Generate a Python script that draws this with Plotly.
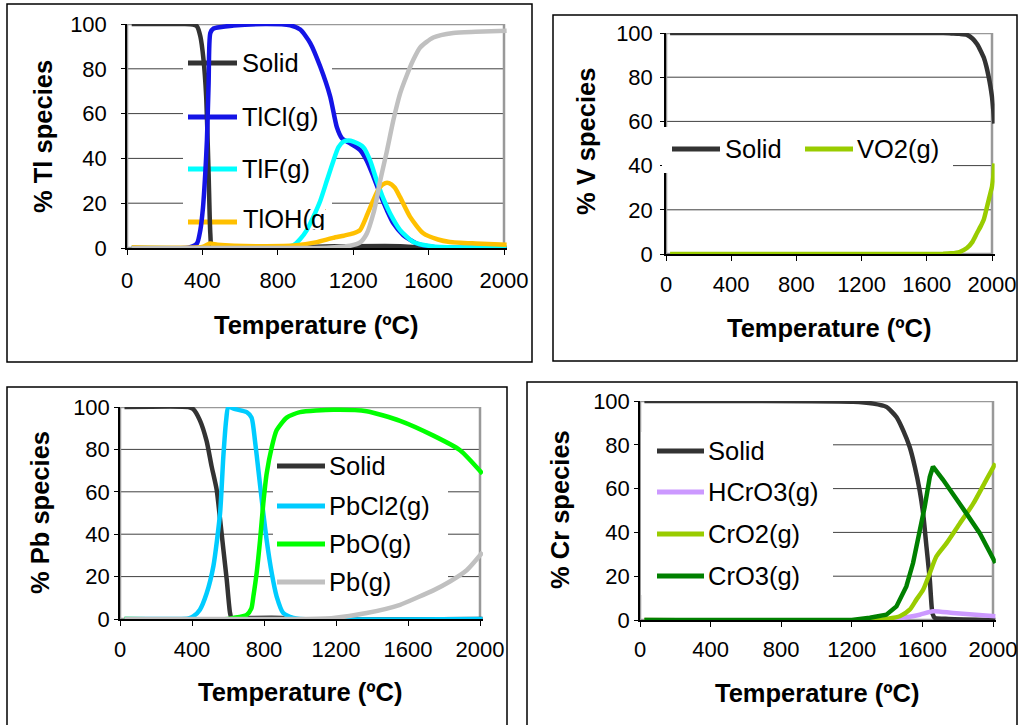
import plotly.graph_objects as go

# ---------------- data ----------------
# Tl panel
tl_solid_T = [25, 300, 350, 371, 389, 406, 420, 433, 442, 450, 500, 900, 1000, 1200, 1450, 1550, 1650, 2014]
tl_solid = [100, 100, 99.8, 99, 94.5, 84, 67.6, 33, 6.4, 0.5, 0.2, 0.2, 0.6, 0.8, 0.8, 0.3, 0, 0]
tl_tlcl_T = [25, 330, 371, 389, 403, 415, 424, 433, 442, 459, 565, 742, 866, 919, 972, 1025, 1078, 1113,
             1140, 1184, 1237, 1272, 1307, 1343, 1378, 1413, 1466, 1537, 1625, 1800, 2014]
tl_tlcl = [0, 0.3, 2, 8, 18, 33, 48, 73.6, 96, 98, 99.3, 100, 99.4, 97.5, 91.5, 81, 67.6, 54,
           49, 46.7, 43.7, 39, 32, 24, 17, 11, 5.7, 2, 0.5, 0, 0]
tl_tlf_T = [25, 800, 883, 919, 954, 989, 1025, 1060, 1095, 1122, 1148, 1175, 1201, 1254, 1290, 1325,
            1360, 1396, 1449, 1519, 1625, 1800, 2014]
tl_tlf = [0, 0.2, 1.2, 4, 8, 14, 21, 30, 39, 45, 47.5, 48, 47.5, 45, 39, 30, 22, 15.4, 8, 2.7, 0.7, 0.2, 0]
tl_tloh_T = [25, 400, 440, 480, 700, 900, 1000, 1093, 1150, 1200, 1236, 1270, 1305, 1340, 1370, 1390,
             1420, 1448, 1501, 1570, 1650, 1713, 1850, 2014]
tl_tloh = [0.3, 0.5, 2, 1.5, 0.8, 1.2, 2.5, 4.5, 5.5, 6.5, 8, 14, 21, 27, 29, 29, 27, 22.8, 14, 6.7,
           3.8, 2.7, 2, 1.4]
tl_tlg_T = [25, 1000, 1100, 1184, 1237, 1272, 1307, 1325, 1343, 1378, 1413, 1449, 1484, 1519, 1555,
            1625, 1731, 1850, 2014]
tl_tlg = [0, 0, 0.3, 1, 2.5, 6.4, 15.4, 22, 30, 43, 57, 69, 77, 84, 89.5, 94, 96, 96.5, 97]

# V panel
v_T = [25, 1700, 1750, 1800, 1846, 1880, 1908, 1930, 1949, 1965, 1980, 1990, 2000, 2008, 2014]
v_solid = [100, 100, 99.8, 99.6, 99.2, 97.5, 95, 92, 89, 85, 80, 76, 71, 65, 59]
v_vo2 = [0, 0.1, 0.3, 0.9, 2.7, 5.5, 9.5, 12.5, 15.5, 20, 24.5, 27.5, 30.5, 35, 41]

# Pb panel
pb_solid_T = [25, 380, 407, 444, 481, 509, 537, 556, 574, 593, 611, 620, 700, 900, 950, 2014]
pb_solid = [100, 100, 99, 93.7, 84, 72, 61, 47, 33, 18.5, 3, 0.5, 0.5, 0.5, 0, 0]
pb_pbcl2_T = [25, 380, 407, 444, 481, 519, 556, 574, 590, 602, 640, 704, 731, 750, 769, 796, 815, 843,
              870, 907, 963, 1000, 2014]
pb_pbcl2 = [0, 0.3, 1.2, 4.4, 12, 25, 50, 76.5, 94, 100, 99, 97.6, 95, 84, 70, 50, 37, 21.6, 10.7,
            2.8, 0.5, 0, 0]
pb_pbo_T = [25, 600, 630, 704, 730, 741, 759, 778, 796, 815, 843, 870, 926, 1000, 1185, 1370, 1556,
            1741, 1889, 2014]
pb_pbo = [0, 0, 0.5, 2, 5, 10.7, 21.6, 37, 54.5, 68.7, 81, 89, 95, 97.6, 98.7, 98, 93.5, 86.5, 79.6, 68.5]
pb_pbg_T = [25, 1000, 1185, 1370, 1556, 1648, 1741, 1833, 1926, 2014]
pb_pbg = [0, 0, 0.5, 2.8, 6.7, 10, 13.5, 17.7, 23, 31.5]

# Cr panel
cr_solid_T = [25, 1208, 1321, 1396, 1453, 1491, 1528, 1557, 1585, 1604, 1623, 1642, 1657, 1670, 1750, 2014]
cr_solid = [100, 99.7, 98.8, 97.3, 92.7, 86.6, 79, 70, 59, 48.7, 33.5, 18.4, 3, 1, 0.5, 0]
cr_hcro3_T = [25, 1400, 1491, 1585, 1660, 1774, 2014]
cr_hcro3 = [0, 0, 1, 2.4, 4, 3.2, 1.7]
cr_cro2_T = [25, 1350, 1396, 1472, 1528, 1566, 1604, 1642, 1679, 1736, 1811, 1887, 1962, 2014]
cr_cro2 = [0, 0, 0.5, 1.7, 4.7, 9.3, 13.8, 21.4, 29, 35, 44, 53, 64, 71.5]
cr_cro3_T = [25, 1200, 1302, 1396, 1453, 1509, 1547, 1585, 1613, 1642, 1660, 1717, 1774, 1849, 1925, 2014]
cr_cro3 = [0, 0, 1, 2.4, 6.2, 15.3, 26, 39.6, 51.7, 65.4, 70, 64, 57, 48.7, 39.6, 26]

x_ticks = [0, 400, 800, 1200, 1600, 2000]
y_ticks = [0, 20, 40, 60, 80, 100]
x_title = "Temperature (ºC)"

C_SOLID = "#333333"
# ---------------- layout ----------------
W, H = 1018, 725
FONT = "Liberation Sans, Arial, sans-serif"
TICK_SIZE = 22
TEXT_SIZE = 25.5
X_MAX = 2000      # axis scale end (frame)
X_SHOW = 2016     # drawn lines run a little past the frame, as in the original

panels = [  # plot area in pixels: left, right(=2000), top, bottom
    dict(l=127, r=504, t=24, b=248, ytitle="% Tl species", ylab_gap=10, xlab_gap=7,
         xt=(315.5, 325), yt=(43, 137)),
    dict(l=666, r=992, t=33, b=254, ytitle="% V species", ylab_gap=3, xlab_gap=5,
         xt=(829, 328), yt=(586, 142)),
    dict(l=120, r=480, t=407, b=619, ytitle="% Pb species", ylab_gap=0, xlab_gap=5,
         xt=(300, 692), yt=(40, 513)),
    dict(l=640, r=993, t=401, b=620, ytitle="% Cr species", ylab_gap=0, xlab_gap=4,
         xt=(816.5, 693), yt=(560, 510)),
]

series = [
    [("Solid", tl_solid_T, tl_solid, C_SOLID), ("TlCl(g)", tl_tlcl_T, tl_tlcl, "#1414e6"),
     ("TlF(g)", tl_tlf_T, tl_tlf, "#00ffff"), ("TlOH(g)", tl_tloh_T, tl_tloh, "#ffc000"),
     ("Tl(g)", tl_tlg_T, tl_tlg, "#c0c0c0")],
    [("Solid", v_T, v_solid, C_SOLID), ("VO2(g)", v_T, v_vo2, "#99cc00")],
    [("Solid", pb_solid_T, pb_solid, C_SOLID), ("PbCl2(g)", pb_pbcl2_T, pb_pbcl2, "#00ccff"),
     ("PbO(g)", pb_pbo_T, pb_pbo, "#00ff00"), ("Pb(g)", pb_pbg_T, pb_pbg, "#c0c0c0")],
    [("Solid", cr_solid_T, cr_solid, C_SOLID), ("HCrO3(g)", cr_hcro3_T, cr_hcro3, "#cc99ff"),
     ("CrO2(g)", cr_cro2_T, cr_cro2, "#99cc00"), ("CrO3(g)", cr_cro3_T, cr_cro3, "#008000")],
]

# legend geometry in pixels: box (l, r, t, b), sample line x0,x1, text x, rows y
legends = [
    dict(box=(183, 332, 48, 230), lx=(188, 237), tx=240, rows=[63, 117, 169, 222], layer="between"),
    dict(box=(662, 953, 127, 173), layer="above",
         items=[(672, 720, 723, 149), (805, 853, 855, 149)]),
    dict(box=(273, 448, 452, 598), lx=(277, 325), tx=327, rows=[466, 506, 544, 582], layer="between"),
    dict(box=(641, 833, 432, 595), lx=(657, 704), tx=706, rows=[451, 492, 534, 576], layer="between"),
]


def fx(px):
    return px / W


def fy(py):
    return 1 - py / H


fig = go.Figure()
layout = dict(width=W, height=H, margin=dict(l=0, r=0, t=0, b=0, pad=0, autoexpand=False),
              paper_bgcolor="white", plot_bgcolor="rgba(0,0,0,0)",
              showlegend=False, font=dict(family=FONT, color="black"))
shapes, annotations = [], []

# outer chart-area borders
for (x0, x1, y0, y1) in [(7, 532, 4, 362), (553, 1017, 15, 361), (7, 507, 387, 735), (527, 1017, 382, 735)]:
    shapes.append(dict(type="rect", xref="paper", yref="paper", x0=fx(x0), x1=fx(x1), y0=fy(y1), y1=fy(y0),
                       line=dict(color="black", width=1.5), fillcolor="rgba(0,0,0,0)", layer="below"))

for i, p in enumerate(panels):
    n = "" if i == 0 else str(i + 1)
    xa, ya = "x" + n, "y" + n
    r_show = p["l"] + (p["r"] - p["l"]) * X_SHOW / X_MAX
    layout["xaxis" + n] = dict(domain=[fx(p["l"]), fx(r_show)], anchor=ya, range=[0, X_SHOW],
                               tickvals=x_ticks, ticks="outside", ticklen=5, tickcolor="black",
                               showline=True, linecolor="black", linewidth=1.5, showgrid=False,
                               zeroline=False, automargin=False,
                               tickfont=dict(size=TICK_SIZE, family=FONT, color="black"),
                               ticklabelstandoff=p["xlab_gap"], fixedrange=True)
    layout["yaxis" + n] = dict(domain=[fy(p["b"]), fy(p["t"])], anchor=xa, range=[0, 100],
                               tickvals=y_ticks, ticks="outside", ticklen=4, tickcolor="black",
                               showline=True, linecolor="black", linewidth=1.5, showgrid=False,
                               zeroline=False, automargin=False,
                               tickfont=dict(size=TICK_SIZE, family=FONT, color="black"),
                               ticklabelstandoff=p["ylab_gap"], fixedrange=True)

    def dx(px, p=p):
        return (px - p["l"]) / (p["r"] - p["l"]) * X_MAX

    def dy(py, p=p):
        return (p["b"] - py) / (p["b"] - p["t"]) * 100

    # horizontal gridlines ending at the frame (x = 2000)
    for v in y_ticks[1:-1]:
        shapes.append(dict(type="line", xref=xa, yref=ya, x0=0, x1=X_MAX, y0=v, y1=v,
                           line=dict(color="#404040", width=1), layer="below"))
    # gray plot-area frame (top / right)
    shapes.append(dict(type="rect", xref=xa, yref=ya, x0=0, x1=X_MAX, y0=0, y1=100,
                       line=dict(color="#999999", width=2.5), layer="between"))

    # legend
    lg = legends[i]
    bl, br, bt, bb = lg["box"]
    if lg["layer"] == "between":
        shapes.append(dict(type="rect", xref=xa, yref=ya, x0=dx(bl), x1=dx(br), y0=dy(bb), y1=dy(bt),
                           line=dict(width=0), fillcolor="white", layer="between"))
        for k, (name, _, _, col) in enumerate(series[i][:len(lg["rows"])]):
            yy = lg["rows"][k]
            shapes.append(dict(type="line", xref=xa, yref=ya, x0=dx(lg["lx"][0]), x1=dx(lg["lx"][1]),
                               y0=dy(yy), y1=dy(yy), line=dict(color=col, width=5), layer="between"))
            if i == 0 and k == 3:
                continue  # clipped label drawn in an overlay subplot
            annotations.append(dict(xref="paper", yref="paper", x=fx(lg["tx"]), y=fy(yy), text=name,
                                    showarrow=False, xanchor="left", yanchor="middle",
                                    font=dict(size=TEXT_SIZE, family=FONT, color="black")))
    else:
        shapes.append(dict(type="rect", xref="paper", yref="paper", x0=fx(bl), x1=fx(br), y0=fy(bb),
                           y1=fy(bt), line=dict(width=0), fillcolor="white", layer="above"))
        for k, (name, _, _, col) in enumerate(series[i]):
            lx0, lx1, tx, yy = lg["items"][k]
            shapes.append(dict(type="line", xref="paper", yref="paper", x0=fx(lx0), x1=fx(lx1),
                               y0=fy(yy), y1=fy(yy), line=dict(color=col, width=5), layer="above"))
            annotations.append(dict(xref="paper", yref="paper", x=fx(tx), y=fy(yy), text=name,
                                    showarrow=False, xanchor="left", yanchor="middle",
                                    font=dict(size=TEXT_SIZE, family=FONT, color="black")))

    # data traces
    for name, T, v, col in series[i]:
        shape = "linear" if name == "CrO3(g)" else "spline"
        fig.add_trace(go.Scatter(x=T, y=v, mode="lines", name=name, xaxis=xa, yaxis=ya,
                                 line=dict(color=col, width=4.5, shape=shape, smoothing=0.6)))

    # axis titles
    annotations.append(dict(xref="paper", yref="paper", x=fx(p["xt"][0]), y=fy(p["xt"][1]),
                            text="<b>" + x_title + "</b>", showarrow=False, xanchor="center",
                            yanchor="middle", font=dict(size=TEXT_SIZE, family=FONT, color="black")))
    annotations.append(dict(xref="paper", yref="paper", x=fx(p["yt"][0]), y=fy(p["yt"][1]),
                            text="<b>" + p["ytitle"] + "</b>", showarrow=False, textangle=-90,
                            xanchor="center", yanchor="middle",
                            font=dict(size=TEXT_SIZE, family=FONT, color="black")))

# overlay subplot used only to clip the partly hidden "TlOH(g)" legend label
layout["xaxis5"] = dict(domain=[fx(183), fx(326)], anchor="y5", range=[183, 326], visible=False,
                        fixedrange=True)
layout["yaxis5"] = dict(domain=[fy(230), fy(48)], anchor="x5", range=[230, 48], visible=False,
                        fixedrange=True)
fig.add_trace(go.Scatter(x=[243], y=[222], mode="text", text=[series[0][3][0]], xaxis="x5", yaxis="y5",
                         textposition="middle right", cliponaxis=True,
                         textfont=dict(size=TEXT_SIZE, family=FONT, color="black"), hoverinfo="skip"))

layout["shapes"] = shapes
layout["annotations"] = annotations
fig.update_layout(**layout)
fig.write_html("out.html", config={"displayModeBar": False},
               post_script="document.body.style.margin='0';document.body.style.overflow='hidden';")
